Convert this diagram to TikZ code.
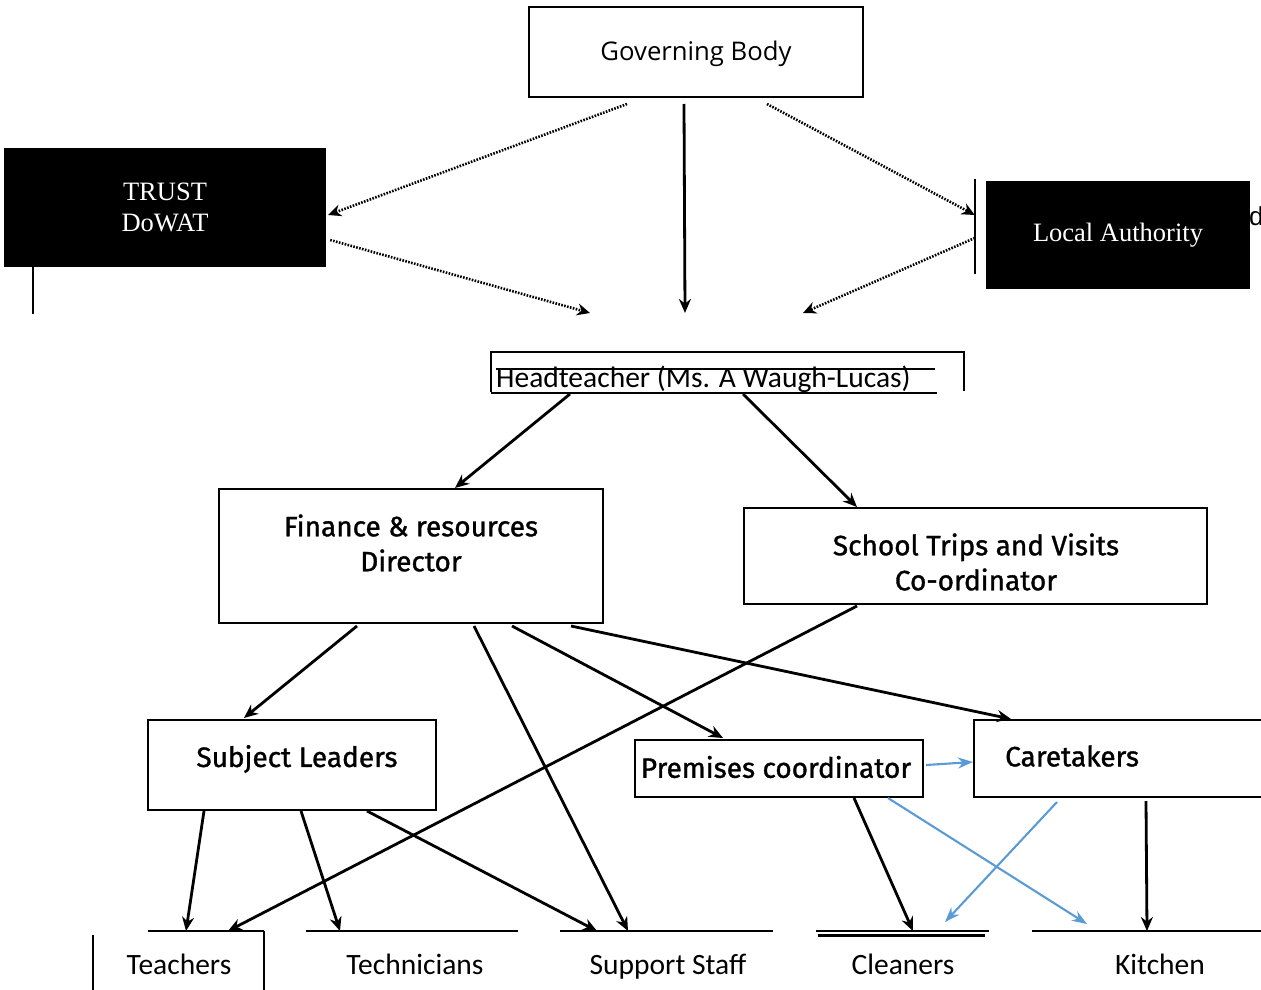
\documentclass[tikz,border=0pt]{standalone}
\usepackage{fontspec}
\setmainfont{Liberation Serif}
\newfontfamily\govfont{Open Sans}
\newfontfamily\calfont{Carlito}
\newfontfamily\dinfont[FakeBold=1.2]{Fira Sans}
\newfontfamily\arialfont{Liberation Sans}
\usetikzlibrary{arrows.meta,calc}
\definecolor{ablue}{RGB}{91,155,213}
\begin{document}
\begin{tikzpicture}[x=1pt,y=-1pt,
 box/.style={draw=black, line width=2pt, fill=white, inner sep=0pt},
 blk/.style={fill=black, draw=none, inner sep=0pt, text=white, align=center,
   font=\fontsize{26.5}{31}\selectfont},
 arr/.style={line width=2.8pt, -{Stealth[length=14pt,width=12pt]}},
 dotarr/.style={line width=2.6pt, dash pattern=on 1.6pt off 1.4pt, -{Stealth[length=13pt,width=12pt]}},
 barr/.style={ablue, line width=2.1pt, -{Stealth[length=15pt,width=11pt]}},
 dtxt/.style={font=\dinfont\fontsize{28}{35}\selectfont, align=center, inner sep=0pt},
 ctxt/.style={font=\calfont\fontsize{29.5}{32}\selectfont, inner sep=0pt},
 bline/.style={line width=2.6pt},
 thin/.style={line width=2pt}
]
\useasboundingbox (0,0) rectangle (1261,990);

% Governing body
\node[box, minimum width=334, minimum height=90] (gov) at (696,52) {};
\node[font=\govfont\fontsize{25.7}{30}\selectfont, inner sep=0pt] (govt) at (696,54) {Governing Body};

% Trust
\node[blk, minimum width=322, minimum height=119] (trust) at (165,207.5) {TRUST\\DoWAT};
\draw[thin] (33,267) -- (33,314);

% Local authority
\node[blk, minimum width=264, minimum height=108] (la) at (1118,235) {Local Authority};
\draw[thin] (975,179) -- (975,274);
\node[font=\arialfont\fontsize{26}{30}\selectfont, anchor=west, inner sep=0pt] (dd) at (1249,216) {d};

% arrows from governing body
\coordinate (gA) at (590,313);
\coordinate (gB) at (685,313);
\coordinate (gC) at (803,313);
\draw[dotarr] ($(gov.south west)+(99,6)$) -- ($(trust.east)+(2,7.5)$);
\draw[dotarr] ($(trust.east)+(4,32.5)$) -- (gA);
\draw[arr] ($(gov.south west)+(156,6)$) -- (gB);
\draw[dotarr] ($(gov.south west)+(239,6)$) -- ($(la.west)+(-11,-20)$);
\draw[dotarr] ($(la.west)+(-11,3)$) -- (gC);

% Headteacher
\node[ctxt, anchor=base west] (ht) at (496,387) {Headteacher (Ms. A Waugh-Lucas)};
\draw[thin] (491,392) -- (491,352) -- (964,352) -- (964,391);
\draw[thin] (496,369) -- (935,369);
\draw[thin] (491,393) -- (937,393);
\coordinate (htL) at (570,394);
\coordinate (htR) at (743,394);

% Finance
\node[box, minimum width=384, minimum height=134] (fin) at (411,556) {};
\node[dtxt] (fint) at (411,543) {Finance \& resources\\Director};
% School trips
\node[box, minimum width=463, minimum height=96] (trip) at (975.5,556) {};
\node[dtxt] (tript) at (976,562) {School Trips and Visits\\Co-ordinator};
\draw[arr] (htL) -- ($(fin.north west)+(237,0)$);
\draw[arr] (htR) -- ($(trip.north west)+(114,0)$);

% Subject leaders
\node[box, minimum width=288, minimum height=90] (subj) at (292,765) {};
\node[dtxt] (subjt) at (297,759) {Subject Leaders};
% Premises
\node[box, minimum width=288, minimum height=57] (prem) at (779,768.5) {};
\node[dtxt] (premt) at (776,767) {Premises coordinator};
% Caretakers
\node[box, minimum width=316, minimum height=77] (care) at (1132,758.5) {};
\node[dtxt, anchor=west] (caret) at (1005,756) {Caretakers};

% Bottom labels
\node[ctxt, anchor=base] (teach) at (179,974) {Teachers};
\node[ctxt, anchor=base] (tech) at (415,974) {Technicians};
\node[ctxt, anchor=base] (supp) at (668,974) {Support Staff};
\node[ctxt, anchor=base] (clean) at (903,974) {Cleaners};
\node[ctxt, anchor=base] (kitch) at (1160,974) {Kitchen};
\draw[bline] (148,931) -- (264,931);
\draw[bline] (93,935) -- (93,990);
\draw[bline] (264,931) -- (264,990);
\draw[bline] (306,931) -- (518,931);
\draw[bline] (560,931) -- (773,931);
\draw[bline] (816,931) -- (989,931);
\draw[bline] (818,935.5) -- (985,935.5);
\draw[bline] (1032,931) -- (1261,931);

% Finance arrows
\draw[arr] ($(fin.south west)+(139,2)$) -- ($(subj.north west)+(97,-1)$);
\draw[arr] ($(fin.south west)+(256,2)$) -- ($(supp.base)+(-40,-43)$);
\draw[arr] ($(fin.south west)+(294,2)$) -- ($(prem.north west)+(89,-1)$);
\draw[arr] ($(fin.south west)+(353,2)$) -- ($(care.north west)+(38,0)$);
% trips
\draw[arr] ($(trip.south west)+(114,1)$) -- ($(teach.base)+(49,-43)$);
% subject leaders
\draw[arr] ($(subj.south west)+(57,0)$) -- ($(teach.base)+(7,-43)$);
\draw[arr] ($(subj.south west)+(154,0)$) -- ($(tech.base)+(-75,-43)$);
\draw[arr] ($(subj.south west)+(220,0)$) -- ($(supp.base)+(-71,-43)$);
% premises
\draw[arr] ($(prem.south west)+(220,0)$) -- ($(clean.base)+(10,-43)$);
\draw[barr] ($(prem.south west)+(254,0)$) -- ($(kitch.base)+(-73,-50)$);
\draw[barr] ($(prem.east)+(2,-3.5)$) -- ($(care.west)+(0,3.5)$);
% caretakers
\draw[barr] ($(care.south west)+(84,4)$) -- ($(clean.base)+(42,-52)$);
\draw[arr] ($(care.south west)+(173,3)$) -- ($(kitch.base)+(-13,-43)$);
\end{tikzpicture}
\end{document}
